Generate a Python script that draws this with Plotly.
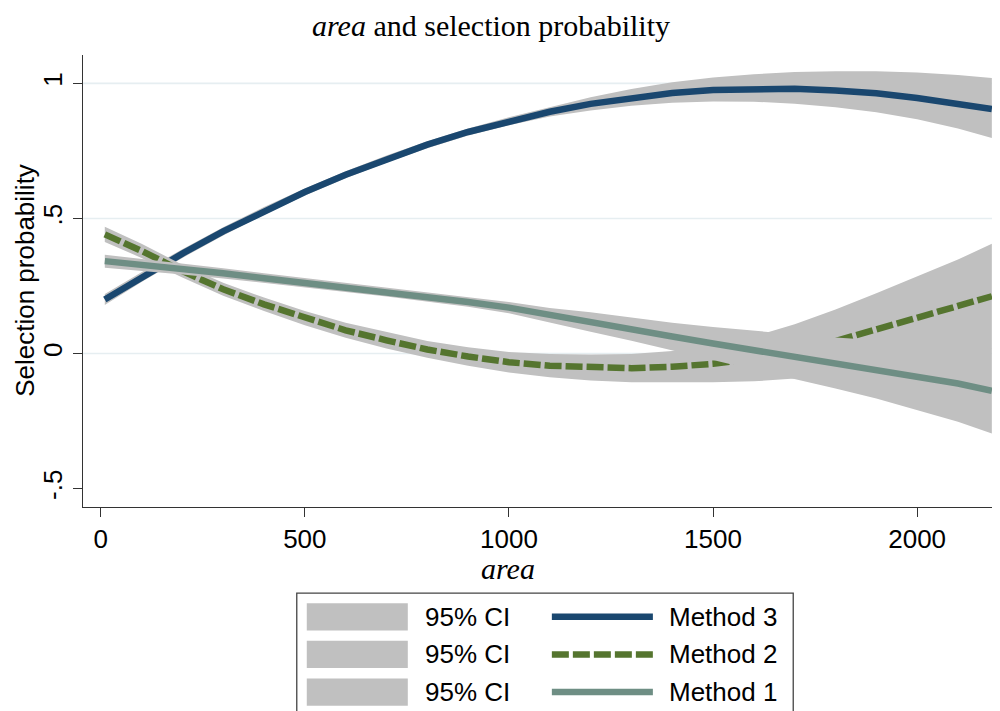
import plotly.graph_objects as go

# ---------------- data ----------------
area = [10, 100, 200, 300, 400, 500, 600, 700, 800, 900, 1000, 1100, 1200,
        1300, 1400, 1500, 1600, 1700, 1800, 1900, 2000, 2100, 2183]

m3 = [0.200, 0.283, 0.370, 0.452, 0.528, 0.598, 0.662, 0.720, 0.773, 0.820, 0.860, 0.895, 0.924,
      0.947, 0.964, 0.975, 0.980, 0.980, 0.974, 0.963, 0.946, 0.925, 0.905]
lo3 = [0.180, 0.265, 0.354, 0.437, 0.514, 0.585, 0.649, 0.707, 0.760, 0.807, 0.845, 0.877, 0.900,
       0.917, 0.928, 0.933, 0.932, 0.925, 0.912, 0.893, 0.867, 0.833, 0.798]
hi3 = [0.220, 0.301, 0.386, 0.467, 0.542, 0.611, 0.675, 0.733, 0.786, 0.833, 0.875, 0.913, 0.949,
       0.979, 1.004, 1.022, 1.034, 1.042, 1.045, 1.045, 1.040, 1.031, 1.020]

m2 = [0.441, 0.380, 0.305, 0.238, 0.182, 0.131, 0.086, 0.049, 0.015, -0.011, -0.032, -0.045, -0.052,
      -0.054, -0.049, -0.038, -0.020, 0.008, 0.046, 0.088, 0.132, 0.175, 0.212]
lo2 = [0.413, 0.354, 0.281, 0.214, 0.157, 0.105, 0.058, 0.019, -0.016, -0.045, -0.070, -0.088, -0.100,
       -0.106, -0.107, -0.106, -0.103, -0.092, -0.071, -0.047, -0.021, 0.002, 0.018]
hi2 = [0.469, 0.406, 0.329, 0.262, 0.207, 0.157, 0.114, 0.079, 0.046, 0.023, 0.006, -0.002, -0.004,
       -0.002, 0.009, 0.030, 0.063, 0.108, 0.163, 0.223, 0.285, 0.348, 0.406]

m1 = [0.342, 0.329, 0.313, 0.297, 0.279, 0.262, 0.245, 0.228, 0.210, 0.191, 0.170, 0.142, 0.117,
      0.090, 0.063, 0.037, 0.012, -0.012, -0.035, -0.058, -0.084, -0.111, -0.138]
lo1 = [0.318, 0.307, 0.293, 0.278, 0.261, 0.245, 0.228, 0.211, 0.193, 0.173, 0.149, 0.115, 0.081,
       0.047, 0.012, -0.024, -0.060, -0.095, -0.129, -0.166, -0.208, -0.252, -0.296]
hi1 = [0.366, 0.351, 0.333, 0.316, 0.297, 0.279, 0.262, 0.245, 0.227, 0.209, 0.191, 0.169, 0.153,
       0.133, 0.114, 0.098, 0.084, 0.071, 0.059, 0.050, 0.040, 0.030, 0.020]

x_ticks = [0, 500, 1000, 1500, 2000]
y_ticks = [-0.5, 0, 0.5, 1]
y_tick_text = ["-.5", "0", ".5", "1"]
grid_vals = [0, 0.5, 1]

series_names = ["Method 3", "Method 2", "Method 1"]
ci_label = "95% CI"
title_text = "<i>area</i> and selection probability"
x_title = "<i>area</i>"
y_title = "Selection probability"

# ---------------- style ----------------
NAVY = "#1A476F"
GREEN = "#55752F"
TEAL = "#6E8E84"
CI_GRAY = "#C0C0C0"
GRID = "#E6EEF1"
AXIS = "#333333"
SANS = "Liberation Sans, Arial, sans-serif"
SERIF = "Liberation Serif, Times New Roman, serif"
LW = 6.5
DASH = "17px,4px"

OFF = 8  # page body margin of the html page
W, H = 1000 - OFF, 711 - OFF
PLOT_L, PLOT_T = 83.3, 55.0          # screen pixels
PW, PH = 1000 - PLOT_L, 451.7
ML, MT = PLOT_L - OFF, PLOT_T - OFF
MB = H - MT - PH


def px(xs):
    return (xs - PLOT_L) / PW


def py(ys):
    return (PLOT_T + PH - ys) / PH


fig = go.Figure()


def band(lo, hi):
    fig.add_trace(go.Scatter(
        x=area + area[::-1], y=hi + lo[::-1], fill="toself", mode="lines",
        line=dict(width=0, color=CI_GRAY), fillcolor=CI_GRAY,
        hoverinfo="skip", showlegend=False))


def curve(m, color, dash=None):
    fig.add_trace(go.Scatter(
        x=area, y=m, mode="lines",
        line=dict(color=color, width=LW, dash=dash if dash else "solid"),
        showlegend=False))


band(lo3, hi3)
curve(m3, NAVY)
band(lo2, hi2)
curve(m2, GREEN, DASH)
band(lo1, hi1)
curve(m1, TEAL)

shapes = []
for g in grid_vals:
    shapes.append(dict(type="line", xref="paper", yref="y", x0=0, x1=1, y0=g, y1=g,
                       line=dict(color=GRID, width=1.6), layer="below"))

# ---- legend drawn by hand (Stata style, two columns) ----
leg_left, leg_top, leg_right = 297, 592.7, 793.3
shapes.append(dict(type="rect", xref="paper", yref="paper",
                   x0=px(leg_left), x1=px(leg_right), y0=py(leg_top), y1=py(760),
                   line=dict(color="#444444", width=1.3), fillcolor="white", layer="above"))
row_c = [616.5, 654.0, 691.7]
colors = [NAVY, GREEN, TEAL]
dashes = ["solid", DASH, "solid"]
annotations = []
for i in range(3):
    c = row_c[i]
    shapes.append(dict(type="rect", xref="paper", yref="paper",
                       x0=px(307), x1=px(408), y0=py(c + 13.6), y1=py(c - 13.6),
                       line=dict(width=0), fillcolor=CI_GRAY, layer="above"))
    shapes.append(dict(type="line", xref="paper", yref="paper",
                       x0=px(552), x1=px(653), y0=py(c), y1=py(c),
                       line=dict(color=colors[i], width=LW, dash=dashes[i]), layer="above"))
    annotations.append(dict(xref="paper", yref="paper", x=px(423), y=py(c),
                            xanchor="left", yanchor="middle", text=ci_label, showarrow=False,
                            font=dict(family=SANS, size=26, color="black")))
    annotations.append(dict(xref="paper", yref="paper", x=px(667), y=py(c),
                            xanchor="left", yanchor="middle", text=series_names[i], showarrow=False,
                            font=dict(family=SANS, size=26, color="black")))

annotations.append(dict(xref="paper", yref="paper", x=px(491), y=py(26),
                        xanchor="center", yanchor="middle", text=title_text, showarrow=False,
                        font=dict(family=SERIF, size=30, color="black")))
annotations.append(dict(xref="paper", yref="paper", x=px(508), y=py(568),
                        xanchor="center", yanchor="middle", text=x_title, showarrow=False,
                        font=dict(family=SERIF, size=30, color="black")))
annotations.append(dict(xref="paper", yref="paper", x=px(25), y=py(280),
                        xanchor="center", yanchor="middle", text=y_title, showarrow=False,
                        textangle=-90,
                        font=dict(family=SANS, size=26, color="black")))

fig.update_layout(
    width=W, height=H,
    margin=dict(l=ML, r=0, t=MT, b=MB, pad=0),
    paper_bgcolor="white", plot_bgcolor="white",
    showlegend=False,
    shapes=shapes, annotations=annotations,
    xaxis=dict(range=[-43.4, 2203], tickvals=x_ticks, ticks="outside", ticklen=9,
               tickwidth=1.3, tickcolor=AXIS, showline=True, linecolor=AXIS, linewidth=1.3,
               showgrid=False, zeroline=False,
               tickfont=dict(family=SANS, size=26, color="black")),
    yaxis=dict(range=[-0.568, 1.105], tickvals=y_ticks, ticktext=y_tick_text,
               ticks="outside", ticklen=9, tickwidth=1.3, tickcolor=AXIS,
               showline=True, linecolor=AXIS, linewidth=1.3, showgrid=False, zeroline=False,
               tickangle=-90,
               tickfont=dict(family=SANS, size=26, color="black")),
)

fig.write_html("out.html")
